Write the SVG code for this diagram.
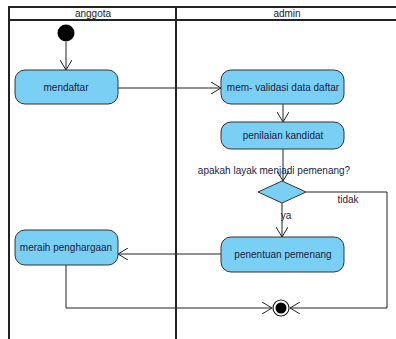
<svg xmlns="http://www.w3.org/2000/svg" width="396" height="339" viewBox="0 0 396 339">
<defs>
<style>
.lane{stroke:#222;stroke-width:2;fill:none}
.act{fill:#7acff5;stroke:#333;stroke-width:1}
.t{font-family:"Liberation Sans",Arial,sans-serif;font-size:10px;fill:#1e2240;text-anchor:middle}
.h{font-family:"Liberation Sans",Arial,sans-serif;font-size:10px;fill:#222;text-anchor:middle}
.c{stroke:#222;stroke-width:1;fill:none}
</style>
<marker id="arr" viewBox="0 0 10 12" refX="10" refY="6" markerWidth="10" markerHeight="12" markerUnits="userSpaceOnUse" orient="auto">
<path d="M0,0 L10,6 L0,12" fill="none" stroke="#222" stroke-width="1"/>
</marker>
</defs>
<rect width="396" height="339" fill="#fff"/>
<g id="swimlanes">
<line class="lane" x1="9" y1="7" x2="396" y2="7"/>
<line class="lane" x1="9" y1="20" x2="396" y2="20"/>
<line class="lane" x1="9" y1="6" x2="9" y2="339"/>
<line class="lane" x1="176" y1="6" x2="176" y2="339"/>
<text class="h" x="93" y="17">anggota</text>
<text class="h" x="287" y="17">admin</text>
</g>
<g id="connectors">
<line class="c" x1="66" y1="42" x2="66" y2="70" marker-end="url(#arr)"/>
<line class="c" x1="118" y1="88" x2="221" y2="88" marker-end="url(#arr)"/>
<line class="c" x1="283" y1="104" x2="283" y2="122" marker-end="url(#arr)"/>
<line class="c" x1="283" y1="149" x2="283" y2="181" marker-end="url(#arr)"/>
<text class="t" x="274" y="174">apakah layak menjadi pemenang?</text>
<polyline class="c" points="306,192 387,192 387,308 290,308" marker-end="url(#arr)"/>
<text class="t" x="348" y="203">tidak</text>
<line class="c" x1="282" y1="203" x2="282" y2="237" marker-end="url(#arr)"/>
<text class="t" x="286" y="219">ya</text>
<line class="c" x1="221" y1="254" x2="118" y2="254" marker-end="url(#arr)"/>
<polyline class="c" points="66,265 66,308 272,308" marker-end="url(#arr)"/>
</g>
<g id="start"><circle cx="66" cy="33" r="8.5" fill="#000"/></g>
<g id="mendaftar"><rect class="act" x="15" y="70" width="103" height="34" rx="10"/><text class="t" x="66" y="91">mendaftar</text></g>
<g id="validasi"><rect class="act" x="221" y="70" width="123" height="34" rx="10"/><text class="t" x="283" y="91">mem- validasi data daftar</text></g>
<g id="penilaian"><rect class="act" x="221" y="122" width="123" height="27" rx="10"/><text class="t" x="283" y="139">penilaian kandidat</text></g>
<g id="decision"><polygon points="258,192 282,181 306,192 282,203" fill="#7acff5" stroke="#333" stroke-width="1"/></g>
<g id="penentuan"><rect class="act" x="221" y="237" width="123" height="35" rx="10"/><text class="t" x="283" y="258">penentuan pemenang</text></g>
<g id="meraih"><rect class="act" x="15" y="230" width="103" height="35" rx="10"/><text class="t" x="66" y="251">meraih penghargaan</text></g>
<g id="end"><circle cx="281" cy="308" r="8" fill="#fff" stroke="#222" stroke-width="1.2"/><circle cx="281" cy="308" r="5.5" fill="#000"/></g>
</svg>
